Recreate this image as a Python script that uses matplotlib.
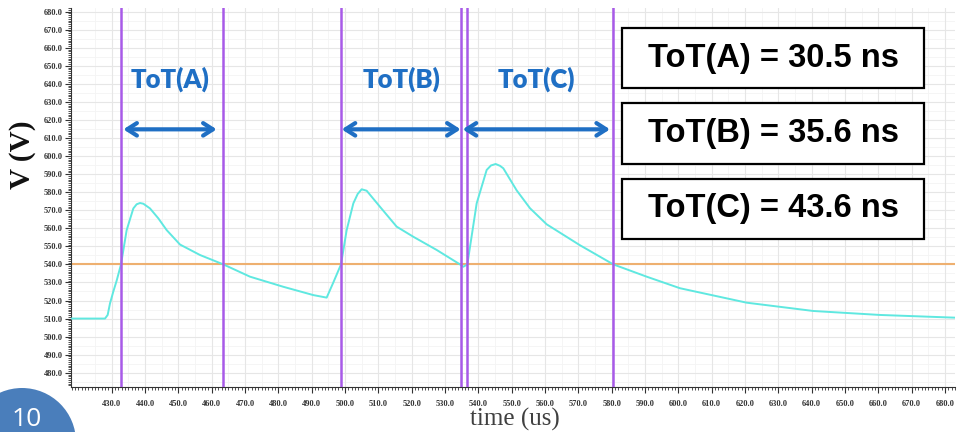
import matplotlib
matplotlib.use("Agg")
import matplotlib.pyplot as plt
from matplotlib import font_manager
from matplotlib.patches import Rectangle, Ellipse
from matplotlib.ticker import MultipleLocator, FormatStrFormatter

# ---------------- data ----------------
time_us = [418, 428, 428.8, 429.5, 430.5, 431.5, 432.8, 434.5, 436.5, 437.5, 438.5,
           439.5, 441.5, 444, 446.5, 450.5, 456.5, 463.5, 471.5, 481.5, 490.5,
           494.5, 496.5, 498.8, 500.5, 502.5, 503.8, 505, 506.5, 510.5, 515.5,
           520.5, 527.5, 534.5, 535.5, 536.7, 539.5, 542.5, 543.8, 545.2, 546.5,
           547.5, 551.5, 555.5, 560.5, 570.5, 580.5, 590.5, 600.5, 620.5, 640.5,
           660.5, 683]
voltage = [510, 510, 512, 518.4, 525, 531, 540, 559, 571, 573.3, 574,
           573.6, 571, 565.5, 559, 551, 545.2, 540, 533.2, 527.6, 523,
           521.6, 530, 540, 559, 573.8, 579, 581.6, 580.8, 571.9, 560.9,
           555.3, 548, 540, 538.7, 540, 573.8, 592.3, 594.8, 595.6, 594.6,
           593.2, 581, 571.1, 562.2, 550.6, 540, 533.2, 526.8, 518.8, 514.2,
           512, 510.5]
threshold = 540
crossings = [432.8, 463.5, 498.8, 534.7, 536.7, 580.5]
tot_labels = ["ToT(A)", "ToT(B)", "ToT(C)"]
tot_spans = [(433.5, 461.5), (499.0, 534.7), (535.3, 579.5)]
tot_texts = ["ToT(A) = 30.5 ns", "ToT(B) = 35.6 ns", "ToT(C) = 43.6 ns"]

# ---------------- fonts ----------------
names = {f.name for f in font_manager.fontManager.ttflist}
narrow = "Liberation Sans Narrow" if "Liberation Sans Narrow" in names else "Liberation Sans"
serif = "Liberation Serif" if "Liberation Serif" in names else "DejaVu Serif"
geo = "Lato" if "Lato" in names else "DejaVu Sans"

W, H = 957, 432
fig = plt.figure(figsize=(W / 100, H / 100), dpi=100)
ax = fig.add_axes([71 / W, 1 - 387 / H, (955 - 71) / W, (387 - 8) / H])

ax.set_xlim(417.8, 683)
ax.set_ylim(472.1, 682)

# grid
ax.xaxis.set_minor_locator(MultipleLocator(1))
ax.yaxis.set_minor_locator(MultipleLocator(1))
ax.set_xticks([v for v in range(430, 681, 10)])
ax.set_yticks([v for v in range(480, 681, 10)])
ax.xaxis.set_major_formatter(FormatStrFormatter("%.1f"))
ax.yaxis.set_major_formatter(FormatStrFormatter("%.1f"))
ax.grid(True, which="major", color="#e6e6e6", lw=0.8)
for v in range(425, 685, 10):
    ax.axvline(v, color="#f4f4f4", lw=0.6, zorder=0)
for v in range(475, 685, 10):
    ax.axhline(v, color="#f4f4f4", lw=0.6, zorder=0)
ax.set_axisbelow(True)

for s in ["top", "right"]:
    ax.spines[s].set_visible(False)
ax.spines["left"].set_color("#333333")
ax.spines["bottom"].set_color("#333333")
ax.tick_params(which="major", length=4, width=0.8, color="#333333", pad=2)
ax.tick_params(which="minor", length=2.5, width=0.6, color="#333333")
for lab in ax.get_xticklabels() + ax.get_yticklabels():
    lab.set_fontfamily(serif)
    lab.set_fontweight("bold")
    lab.set_fontsize(6)
    lab.set_color("#333333")
ax.tick_params(axis="x", pad=5)

# lines
ax.axhline(threshold, color="#eeb070", lw=1.5, zorder=2)
ax.plot(time_us, voltage, color="#5fe8e0", lw=1.4, zorder=3)
for c in crossings:
    ax.axvline(c, color="#a85ae8", lw=1.8, zorder=4)

# arrows and labels
arrow_v = 614.8
label_v = 642.5
for lab, (a, b) in zip(tot_labels, tot_spans):
    ax.annotate("", xy=(a, arrow_v), xytext=(b, arrow_v),
                arrowprops=dict(arrowstyle="<->,head_length=0.7,head_width=0.45",
                                color="#1f6fc4", lw=3.0, shrinkA=0, shrinkB=0),
                zorder=5)
    ax.text((a + b) / 2, label_v, lab, ha="center", va="center", color="#1f6fc4",
            fontsize=18.5, fontweight="heavy", family=geo, zorder=5)

# boxes with ToT values (figure pixel coordinates)
box_x0, box_x1 = 622, 924
box_rows = [(28, 88), (103, 164), (179, 239)]
for txt, (y0, y1) in zip(tot_texts, box_rows):
    r = Rectangle((box_x0 / W, 1 - y1 / H), (box_x1 - box_x0) / W, (y1 - y0) / H,
                  transform=fig.transFigure, facecolor="white", edgecolor="black",
                  lw=1.6, zorder=10)
    fig.patches.append(r)
    fig.text((box_x0 + box_x1) / 2 / W, 1 - (y0 + y1) / 2 / H, txt, ha="center",
             va="center", fontsize=23.5, fontweight="bold", family=narrow, zorder=11)

# axis titles
fig.text(22 / W, 1 - 155 / H, "V (V)", rotation=90, ha="center", va="center",
         fontsize=21, fontweight="bold", family=serif, color="#111111")
fig.text(515 / W, 1 - 419 / H, "time (us)", ha="center", va="center",
         fontsize=18, family=serif, color="#404040")

# slide number badge
circ = Ellipse((22 / W, 1 - 442 / H), 108 / W, 108 / H, transform=fig.transFigure,
               facecolor="#4a7ebb", edgecolor="none", zorder=20)
fig.patches.append(circ)
fig.text(27 / W, 1 - 420 / H, "10", ha="center", va="center", fontsize=19,
         color="white", family="Open Sans", zorder=21)

fig.savefig("out.png", dpi=100)
